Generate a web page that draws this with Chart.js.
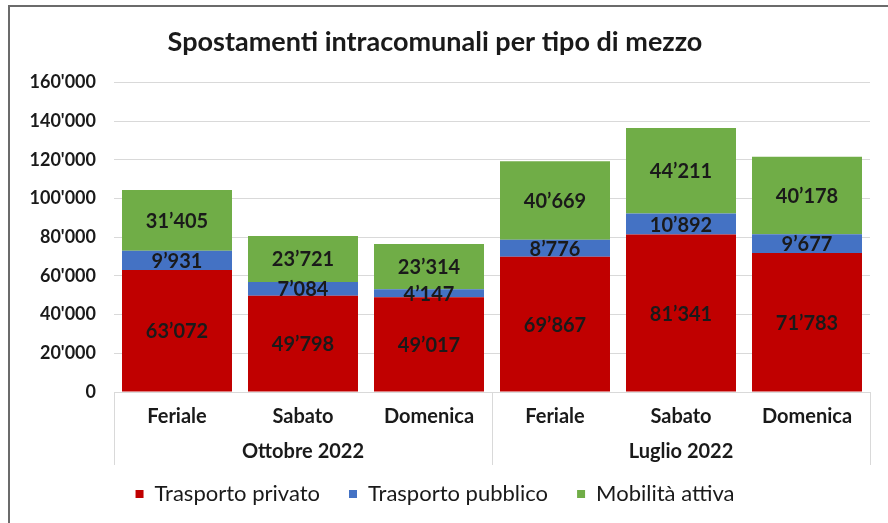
<!doctype html>
<html>

<head>
	<meta charset="utf-8">
	<title>Spostamenti intracomunali per tipo di mezzo</title>
	<script src="https://cdn.jsdelivr.net/npm/chart.js@4/dist/chart.umd.min.js"></script>
	<style>
		html, body { margin: 0; padding: 0; background: #fff; }
		#canvas-holder { width: 888px; height: 523px; }
	</style>
</head>

<body>
	<div id="canvas-holder">
		<canvas id="chart-area" width="888" height="523"></canvas>
	</div>

	<script>
		const categories = ['Feriale', 'Sabato', 'Domenica', 'Feriale', 'Sabato', 'Domenica'];
		const periods = ['Ottobre 2022', 'Luglio 2022'];
		const periodSizes = [3, 3];
		const seriesNames = ['Trasporto privato', 'Trasporto pubblico', 'Mobilità attiva'];
		const privato = [63072, 49798, 49017, 69867, 81341, 71783];
		const pubblico = [9931, 7084, 4147, 8776, 10892, 9677];
		const attiva = [31405, 23721, 23314, 40669, 44211, 40178];
		const colors = ['#C00000', '#4472C4', '#70AD47'];

		const FONT = 'Lato, "Open Sans", sans-serif';
		const TEXT = '#1a1a1a';

		function fmt(v, sep) {
			return String(v).replace(/\B(?=(\d{3})+(?!\d))/g, sep || "'");
		}

		// outer frame, cropped on the right and bottom like the original
		const framePlugin = {
			id: 'frame',
			beforeDraw(chart) {
				const ctx = chart.ctx;
				ctx.save();
				ctx.fillStyle = '#fff';
				ctx.fillRect(0, 0, chart.width, chart.height);
				ctx.strokeStyle = '#6b6b6b';
				ctx.lineWidth = 2;
				ctx.strokeRect(9, 6, chart.width + 50, chart.height + 50);
				ctx.restore();
			}
		};

		// second level of the category axis (periods) with separators
		const groupAxisPlugin = {
			id: 'groupAxis',
			afterDraw(chart) {
				const ctx = chart.ctx;
				const x = chart.scales.x;
				const area = chart.chartArea;
				const half = (x.getPixelForValue(1) - x.getPixelForValue(0)) / 2;
				ctx.save();
				ctx.strokeStyle = '#d9d9d9';
				ctx.lineWidth = 1;
				ctx.font = 'bold 20px ' + FONT;
				ctx.fillStyle = TEXT;
				ctx.textAlign = 'center';
				ctx.textBaseline = 'middle';
				let start = 0;
				const edges = [x.getPixelForValue(0) - half];
				periods.forEach((p, i) => {
					const end = start + periodSizes[i] - 1;
					const l = x.getPixelForValue(start) - half;
					const r = x.getPixelForValue(end) + half;
					edges.push(r);
					ctx.fillText(p, (l + r) / 2, area.bottom + 60);
					start = end + 1;
				});
				edges.forEach(e => {
					const px = Math.round(e) + 0.5;
					ctx.beginPath();
					ctx.moveTo(px, area.bottom);
					ctx.lineTo(px, area.bottom + 73);
					ctx.stroke();
				});
				ctx.restore();
			}
		};

		// value labels in the middle of each segment
		const valueLabelPlugin = {
			id: 'valueLabels',
			afterDatasetsDraw(chart) {
				const ctx = chart.ctx;
				ctx.save();
				ctx.font = 'bold 20px ' + FONT;
				ctx.fillStyle = TEXT;
				ctx.textAlign = 'center';
				ctx.textBaseline = 'middle';
				chart.data.datasets.forEach((ds, di) => {
					chart.getDatasetMeta(di).data.forEach((bar, i) => {
						ctx.fillText(fmt(ds.data[i], '\u2019'), bar.x, (bar.y + bar.base) / 2 + 1);
					});
				});
				ctx.restore();
			}
		};

		const ctx2d = document.getElementById('chart-area').getContext('2d');
		window.myChart = new Chart(ctx2d, {
			type: 'bar',
			data: {
				labels: categories,
				datasets: [privato, pubblico, attiva].map((d, i) => ({
					label: seriesNames[i],
					data: d,
					backgroundColor: colors[i],
					borderWidth: 0,
					barPercentage: 0.873,
					categoryPercentage: 1
				}))
			},
			options: {
				responsive: false,
				animation: false,
				layout: {
					padding: { left: 0, right: 18, top: 0, bottom: 8 }
				},
				plugins: {
					title: {
						display: true,
						text: 'Spostamenti intracomunali per tipo di mezzo',
						color: TEXT,
						font: { family: FONT, size: 27, weight: 'bold' },
						padding: { top: 26, bottom: 24 }
					},
					legend: {
						position: 'bottom',
						labels: {
							boxWidth: 8,
							boxHeight: 8,
							color: TEXT,
							padding: 29,
							font: { family: FONT, size: 22 }
						}
					},
					tooltip: { enabled: false }
				},
				scales: {
					x: {
						stacked: true,
						grid: { display: false },
						border: { display: false },
						ticks: {
							color: TEXT,
							padding: 5,
							font: { family: FONT, size: 20, weight: 'bold' }
						},
						afterFit(scale) { scale.height = 62; }
					},
					y: {
						stacked: true,
						min: 0,
						max: 160000,
						grid: { color: '#d9d9d9', drawTicks: false },
						border: { display: false },
						ticks: {
							stepSize: 20000,
							color: TEXT,
							padding: 18,
							font: { family: FONT, size: 18, weight: 'bold' },
							callback: v => fmt(v)
						},
						afterFit(scale) { scale.width = 114; }
					}
				}
			},
			plugins: [framePlugin, groupAxisPlugin, valueLabelPlugin]
		});
	</script>
</body>
</html>
